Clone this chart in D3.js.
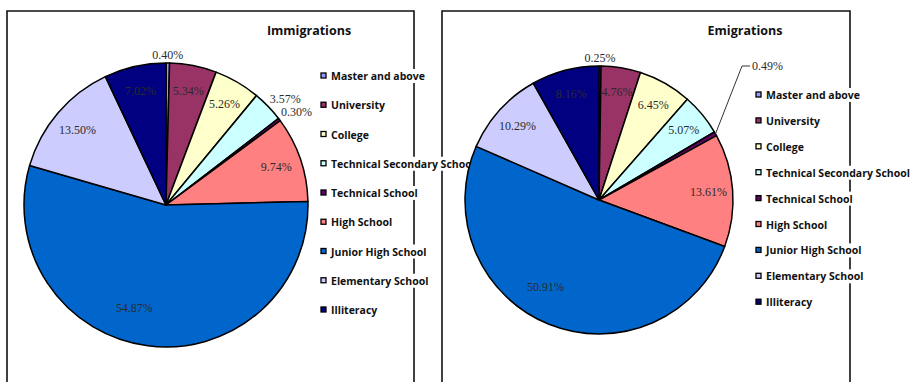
<!DOCTYPE html>
<html>
<head>
<meta charset="utf-8">
<script src="https://cdn.jsdelivr.net/npm/d3@7"></script>
<style>
  html, body { margin: 0; padding: 0; background: #fff; }
  svg { display: block; }
</style>
</head>
<body>
<svg id="chart" width="914" height="382"></svg>
<script>
// Education level of migrants, share of each group (%)
const categories = [
  "Master and above", "University", "College", "Technical Secondary School",
  "Technical School", "High School", "Junior High School", "Elementary School", "Illiteracy"
];
const immigrationValues = [0.40, 5.34, 5.26, 3.57, 0.30, 9.74, 54.87, 13.50, 7.02];
const emigrationValues  = [0.25, 4.76, 6.45, 5.07, 0.49, 13.61, 50.91, 10.29, 8.16];
const chartTitles = ["Immigrations", "Emigrations"];

const sliceColors = ["#9999FF", "#993366", "#FFFFCC", "#CCFFFF", "#660066",
                     "#FF8080", "#0066CC", "#CCCCFF", "#000080"];

const svg = d3.select("#chart");
const color = d3.scaleOrdinal().domain(categories).range(sliceColors);

const panels = [
  { title: chartTitles[0], values: immigrationValues,
    box: [7, 11, 414], cx: 166, cy: 205, r: 142, titleX: 309,
    legendMarkX: 321, legendTextX: 331, legendTop: 76, legendStep: 29.25,
    leader: null },
  { title: chartTitles[1], values: emigrationValues,
    box: [442, 11, 850], cx: 599, cy: 200, r: 134, titleX: 745,
    legendMarkX: 756, legendTextX: 766, legendTop: 95, legendStep: 25.9,
    leader: { index: 4, dx: 153, dy: -134 } }
];

const legendFont = "'Open Sans', 'DejaVu Sans', sans-serif";
const labelFont = "'Liberation Serif', 'Times New Roman', serif";

// Panel frames first so the legend text boxes can sit on top of them
panels.forEach(p => {
  const [x0, y0, x1] = p.box;
  svg.append("path")
    .attr("d", `M${x0},400V${y0}H${x1}V400`)
    .attr("fill", "none").attr("stroke", "#111").attr("stroke-width", 1.6);
});

const pie = d3.pie().sort(null).value(d => d);
const fmt = v => v.toFixed(2) + "%";

panels.forEach(p => {
  const g = svg.append("g").attr("transform", `translate(${p.cx},${p.cy})`);
  const arcs = pie(p.values);
  const arc = d3.arc().innerRadius(0).outerRadius(p.r);

  g.selectAll("path.slice").data(arcs).enter().append("path")
    .attr("class", "slice")
    .attr("d", arc)
    .attr("fill", (d, i) => color(categories[i]))
    .attr("stroke", "#000").attr("stroke-width", 1.5)
    .attr("stroke-linejoin", "round");

  // Percentage labels
  arcs.forEach((d, i) => {
    const mid = (d.startAngle + d.endAngle) / 2;
    const v = d.data;
    const txt = g.append("text")
      .attr("font-family", labelFont).attr("font-size", 12)
      .attr("fill", "#2b2b2b")
      .attr("dominant-baseline", "central")
      .text(fmt(v));

    if (p.leader && p.leader.index === i) {
      // dragged label with a leader line back to the slice
      const ex = Math.sin(mid) * p.r, ey = -Math.cos(mid) * p.r;
      const kx = p.leader.dx - 10, ky = p.leader.dy;
      g.append("path")
        .attr("d", `M${ex},${ey}L${kx},${ky}H${kx + 8}`)
        .attr("fill", "none").attr("stroke", "#333").attr("stroke-width", 1);
      txt.attr("x", p.leader.dx).attr("y", ky).attr("text-anchor", "start");
    } else if (v < 4) {
      // small slices: label sits just outside the rim
      const w = txt.node().getComputedTextLength(), h = 12;
      const s = Math.sin(mid), c = Math.cos(mid), gap = 2;
      const ox = Math.abs(s) < 0.2 ? 0 : Math.sign(s) * w / 2;
      const oy = -Math.sign(c) * h / 2;
      txt.attr("x", (p.r + gap) * s + ox)
         .attr("y", -(p.r + gap) * c + oy)
         .attr("text-anchor", "middle");
    } else {
      const big = v > 40;
      const a = big ? mid + 0.17 : mid;
      const rr = p.r * (big ? 0.76 : 0.82);
      txt.attr("x", rr * Math.sin(a)).attr("y", -rr * Math.cos(a))
         .attr("text-anchor", "middle");
    }
  });

  // Title
  svg.append("text")
    .attr("x", p.titleX).attr("y", 30)
    .attr("text-anchor", "middle").attr("dominant-baseline", "central")
    .attr("font-family", legendFont).attr("font-weight", 700)
    .attr("font-size", 12.5).attr("fill", "#111")
    .text(p.title);

  // Legend
  const lg = svg.append("g");
  categories.forEach((cat, i) => {
    const y = p.legendTop + i * p.legendStep;
    const bg = lg.append("rect").attr("fill", "#fff");
    const t = lg.append("text")
      .attr("x", p.legendTextX).attr("y", y)
      .attr("dominant-baseline", "central")
      .attr("font-family", legendFont).attr("font-weight", 700)
      .attr("font-size", 10.5).attr("fill", "#111")
      .text(cat);
    const bb = t.node().getBBox();
    bg.attr("x", bb.x - 1).attr("y", bb.y).attr("width", bb.width + 2).attr("height", bb.height);
    lg.append("rect")
      .attr("x", p.legendMarkX).attr("y", y - 3)
      .attr("width", 5).attr("height", 5)
      .attr("fill", color(cat)).attr("stroke", "#000").attr("stroke-width", 1.3);
  });
});
</script>
</body>
</html>
